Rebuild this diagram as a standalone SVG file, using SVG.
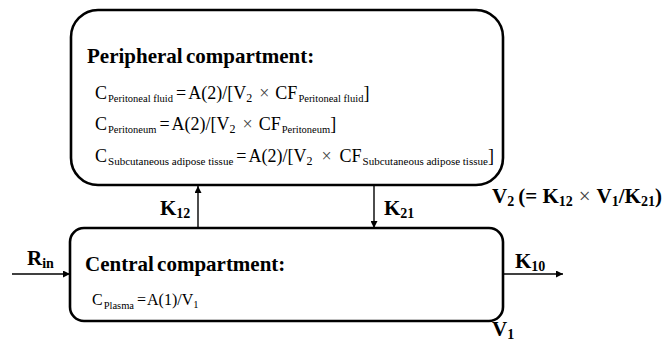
<svg xmlns="http://www.w3.org/2000/svg" width="670" height="344" viewBox="0 0 670 344">
<style>
.box{fill:#fff;stroke:#000;stroke-width:2.6}
.ln{stroke:#000;stroke-width:1.4;fill:none}
text{font-family:"Liberation Serif","Times New Roman",serif;fill:#000}
.t{font-size:21px;font-weight:bold;word-spacing:-2px}
.b{font-size:21px;font-weight:bold}
.bs{font-size:14px;font-weight:bold}
.f{font-size:18px}
.s{font-size:10.5px}
.n{font-size:12px}
.x{fill:#444;font-weight:normal}
.cf{font-size:16px}
</style>
<defs>
<marker id="ah" viewBox="0 0 10 10" refX="10" refY="5" markerWidth="7" markerHeight="7" markerUnits="userSpaceOnUse" orient="auto">
<path d="M0,0 L10,5 L0,10 z" fill="#000"/>
</marker>
</defs>
<rect width="670" height="344" fill="#fff"/>
<g id="peripheral">
<rect class="box" x="71" y="10" width="432" height="175" rx="27" ry="27"/>
<text class="t" x="87" y="63">Peripheral compartment:</text>
<text class="f" x="95" y="99">C<tspan class="s" dx="1" dy="3">Peritoneal fluid</tspan><tspan dx="3" dy="-3">=</tspan><tspan dx="2">A(2)/[V</tspan><tspan class="n" dy="3">2</tspan><tspan class="x" dx="7" dy="-3">×</tspan><tspan dx="6">CF</tspan><tspan class="s" dx="1" dy="3">Peritoneal fluid</tspan><tspan dy="-3">]</tspan></text>
<text class="f" x="95" y="130">C<tspan class="s" dx="1" dy="3">Peritoneum</tspan><tspan dx="3" dy="-3">=</tspan><tspan dx="2">A(2)/[V</tspan><tspan class="n" dy="3">2</tspan><tspan class="x" dx="7" dy="-3">×</tspan><tspan dx="6">CF</tspan><tspan class="s" dx="1" dy="3">Peritoneum</tspan><tspan dy="-3">]</tspan></text>
<text class="f" x="95" y="162">C<tspan class="s" dx="1" dy="3" style="font-size:11px">Subcutaneous adipose tissue</tspan><tspan dx="3" dy="-3">=</tspan><tspan dx="2">A(2)/[V</tspan><tspan class="n" dy="3">2</tspan><tspan class="x" dx="9" dy="-3">×</tspan><tspan dx="8">CF</tspan><tspan class="s" dx="1" dy="3" style="font-size:11px">Subcutaneous adipose tissue</tspan><tspan dy="-3">]</tspan></text>
</g>
<g id="central">
<rect class="box" x="70" y="228" width="433" height="93" rx="14" ry="14"/>
<text class="t" x="85" y="271">Central compartment:</text>
<text class="cf" x="92" y="305">C<tspan class="s" dx="1" dy="4">Plasma</tspan><tspan dx="3" dy="-4">=</tspan><tspan dx="1">A(1)/V</tspan><tspan class="s" dy="3">1</tspan></text>
</g>
<g id="connectors">
<line class="ln" x1="198" y1="228" x2="198" y2="186" marker-end="url(#ah)"/>
<line class="ln" x1="374" y1="186" x2="374" y2="228" marker-end="url(#ah)"/>
<line class="ln" x1="12" y1="274" x2="70" y2="274" marker-end="url(#ah)"/>
<line class="ln" x1="503" y1="274" x2="563" y2="274" marker-end="url(#ah)"/>
</g>
<g id="labels">
<text class="b" x="27" y="265">R<tspan class="bs" dy="3">in</tspan></text>
<text class="b" x="160" y="215">K<tspan class="bs" dy="3">12</tspan></text>
<text class="b" x="384" y="215">K<tspan class="bs" dy="3">21</tspan></text>
<text class="b" x="515" y="268">K<tspan class="bs" dy="3">10</tspan></text>
<text class="b" x="492" y="336">V<tspan class="bs" dy="3">1</tspan></text>
<text class="b" x="492" y="203">V<tspan class="bs" dy="3">2</tspan><tspan dx="4" dy="-3">(= K</tspan><tspan class="bs" dy="3">12</tspan><tspan class="x" dx="6" dy="-3">×</tspan><tspan dx="6">V</tspan><tspan class="bs" dy="3">1</tspan><tspan dy="-3">/K</tspan><tspan class="bs" dy="3">21</tspan><tspan dy="-3">)</tspan></text>
</g>
</svg>
